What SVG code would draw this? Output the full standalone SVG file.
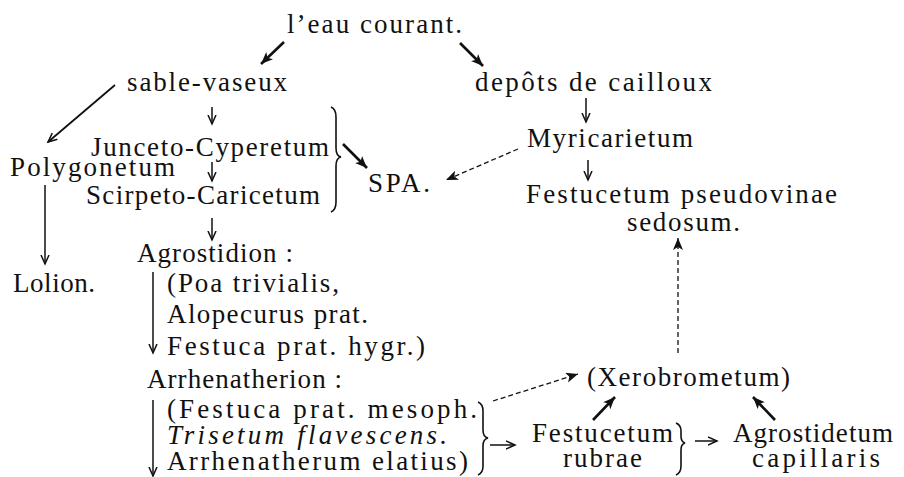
<svg xmlns="http://www.w3.org/2000/svg" width="904" height="477" viewBox="0 0 904 477">
<style>
text{font-family:"Liberation Serif","Times New Roman",serif;font-size:27px;fill:#111;}
.it{font-style:italic;}
.bold{stroke:#111;stroke-width:2.6;fill:none;marker-end:url(#hb);}
.thin{stroke:#111;stroke-width:1.5;fill:none;marker-end:url(#ht);}
.dash{stroke:#111;stroke-width:1.3;fill:none;stroke-dasharray:5 3;marker-end:url(#hb);}
.brace{stroke:#111;stroke-width:1.6;fill:none;}
</style>
<defs>
<marker id="hb" markerUnits="userSpaceOnUse" markerWidth="14" markerHeight="12" refX="12" refY="5" orient="auto"><path d="M0,0 L12,5 L0,10 L3,5 z" fill="#111"/></marker>
<marker id="ht" markerUnits="userSpaceOnUse" markerWidth="12" markerHeight="12" refX="9" refY="5" orient="auto"><path d="M0,1 L9,5 L0,9" fill="none" stroke="#111" stroke-width="1.5"/></marker>
</defs>
<rect width="904" height="477" fill="#fff"/>
<g id="eau"><text x="287" y="33" textLength="175" lengthAdjust="spacing">l’eau courant.</text></g>
<g id="sable"><text x="127" y="91" textLength="160" lengthAdjust="spacing">sable-vaseux</text></g>
<g id="depots"><text x="475" y="91" textLength="237" lengthAdjust="spacing">depôts de cailloux</text></g>
<g id="junceto"><text x="91" y="156" textLength="238" lengthAdjust="spacing">Junceto-Cyperetum</text></g>
<g id="polygonetum"><text x="10" y="176" textLength="165" lengthAdjust="spacing">Polygonetum</text></g>
<g id="scirpeto"><text x="86" y="204" textLength="234" lengthAdjust="spacing">Scirpeto-Caricetum</text></g>
<g id="spa"><text x="368" y="192" textLength="62" lengthAdjust="spacing">SPA.</text></g>
<g id="myricarietum"><text x="527" y="147" textLength="166" lengthAdjust="spacing">Myricarietum</text></g>
<g id="festpseudo"><text x="526" y="203" textLength="311" lengthAdjust="spacing">Festucetum pseudovinae</text><text x="627" y="231" textLength="113" lengthAdjust="spacing">sedosum.</text></g>
<g id="agrostidion"><text x="137" y="262" textLength="156" lengthAdjust="spacing">Agrostidion :</text>
<text x="167" y="292" textLength="172" lengthAdjust="spacing">(Poa trivialis,</text>
<text x="167" y="323" textLength="201" lengthAdjust="spacing">Alopecurus prat.</text>
<text x="167" y="355" textLength="258" lengthAdjust="spacing">Festuca prat. hygr.)</text></g>
<g id="lolion"><text x="13" y="292" textLength="82" lengthAdjust="spacing">Lolion.</text></g>
<g id="arrhenatherion"><text x="147" y="388" textLength="195" lengthAdjust="spacing">Arrhenatherion :</text>
<text x="167" y="418" textLength="310" lengthAdjust="spacing">(Festuca prat. mesoph.</text>
<text class="it" x="167" y="444" textLength="280" lengthAdjust="spacing">Trisetum flavescens.</text>
<text x="167" y="470" textLength="301" lengthAdjust="spacing">Arrhenatherum elatius)</text></g>
<g id="xerobrometum"><text x="587" y="386" textLength="203" lengthAdjust="spacing">(Xerobrometum)</text></g>
<g id="festrubrae"><text x="532" y="442" textLength="141" lengthAdjust="spacing">Festucetum</text><text x="563" y="467" textLength="79" lengthAdjust="spacing">rubrae</text></g>
<g id="agrostidetum"><text x="733" y="442" textLength="160" lengthAdjust="spacing">Agrostidetum</text><text x="752" y="467" textLength="128" lengthAdjust="spacing">capillaris</text></g>
<g id="braces">
<path class="brace" d="M331,107 q5,2 5,10 L336,148 q0,8 5,9 q-5,1 -5,9 L336,202 q0,8 -5,10"/>
<path class="brace" d="M478,402 q5,2 5,9 L483,430 q0,7 5,8 q-5,1 -5,8 L483,466 q0,7 -5,9"/>
<path class="brace" d="M676,423 q5,2 5,8 L681,436 q0,6 4,7 q-4,1 -4,7 L681,466 q0,7 -5,9"/>
</g>
<g id="connectors">
<line class="bold" x1="284" y1="42" x2="261" y2="64"/>
<line class="bold" x1="460" y1="43" x2="483" y2="66"/>
<line class="thin" x1="115" y1="85" x2="48" y2="142" style="stroke-width:1.8"/>
<line class="thin" x1="212" y1="107" x2="212" y2="124"/>
<line class="thin" x1="212" y1="162" x2="212" y2="181"/>
<line class="thin" x1="212" y1="218" x2="212" y2="240"/>
<line class="bold" x1="343" y1="144" x2="367" y2="168"/>
<line class="thin" x1="45" y1="185" x2="45" y2="264"/>
<line class="thin" x1="586" y1="98" x2="586" y2="122"/>
<line class="thin" x1="588" y1="160" x2="588" y2="180"/>
<line class="dash" x1="518" y1="149" x2="446" y2="180"/>
<line class="dash" x1="678" y1="353" x2="678" y2="238"/>
<line class="thin" x1="153" y1="272" x2="153" y2="353"/>
<line class="thin" x1="153" y1="400" x2="153" y2="476"/>
<line class="dash" x1="493" y1="401" x2="578" y2="374"/>
<line class="thin" x1="490" y1="445" x2="515" y2="445"/>
<line class="bold" x1="593" y1="420" x2="615" y2="397"/>
<line class="bold" x1="775" y1="420" x2="753" y2="397"/>
<line class="thin" x1="695" y1="441" x2="717" y2="441"/>
</g>
</svg>
